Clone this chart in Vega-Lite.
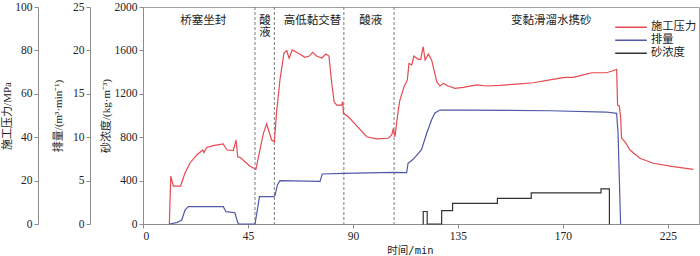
{
  "$schema": "https://vega.github.io/schema/vega-lite/v6.json",
  "width": 556,
  "height": 217,
  "autosize": {"type": "none"},
  "padding": {"left": 143, "top": 7, "right": 1, "bottom": 32},
  "config": {
    "font": "Liberation Serif",
    "view": {"stroke": "#a0a0a0", "strokeWidth": 1},
    "axis": {
      "domainColor": "#8c8c8c",
      "tickColor": "#8c8c8c",
      "labelColor": "#222222",
      "titleColor": "#222222",
      "labelFont": "Liberation Serif",
      "titleFont": "Liberation Serif, Noto Sans CJK SC",
      "labelFontSize": 11.5,
      "titleFontSize": 11,
      "titleFontWeight": "normal",
      "grid": false,
      "tickSize": 4,
      "labelPadding": 2,
      "format": "d"
    }
  },
  "datasets": {
    "pressure": [
      {"t": 11.3, "v": 0}, {"t": 11.9, "v": 22.1}, {"t": 13, "v": 17.5}, {"t": 16.1, "v": 17.5},
      {"t": 18, "v": 23.5}, {"t": 20.1, "v": 28}, {"t": 23, "v": 31.8}, {"t": 25.6, "v": 34.1},
      {"t": 26.1, "v": 32.9}, {"t": 27.3, "v": 35.3}, {"t": 30.1, "v": 36.1}, {"t": 34.4, "v": 36.9},
      {"t": 35.1, "v": 35.6}, {"t": 36.1, "v": 34.1}, {"t": 38.7, "v": 33.8}, {"t": 39.9, "v": 38.7},
      {"t": 40.6, "v": 31}, {"t": 41.6, "v": 30.7}, {"t": 43.7, "v": 28.7}, {"t": 45.9, "v": 26.6},
      {"t": 48.4, "v": 25.2}, {"t": 50.1, "v": 34.1}, {"t": 51.6, "v": 41.8}, {"t": 53, "v": 46.1},
      {"t": 55.1, "v": 38.7}, {"t": 56.3, "v": 37.9}, {"t": 57.3, "v": 52}, {"t": 58.7, "v": 66.4},
      {"t": 60.4, "v": 78.7}, {"t": 61.6, "v": 79.9}, {"t": 62.6, "v": 76.4}, {"t": 64, "v": 80.2},
      {"t": 66.6, "v": 78.7}, {"t": 69.4, "v": 76.8}, {"t": 71.3, "v": 77.4}, {"t": 72.7, "v": 79.1},
      {"t": 74.4, "v": 77.4}, {"t": 76.6, "v": 76.5}, {"t": 78.4, "v": 78.3}, {"t": 79.7, "v": 77.4},
      {"t": 80.9, "v": 64.8}, {"t": 81.9, "v": 56.4}, {"t": 83, "v": 54.8}, {"t": 85.1, "v": 54.8},
      {"t": 85.6, "v": 56.4}, {"t": 85.9, "v": 51}, {"t": 88, "v": 49.4}, {"t": 91.6, "v": 45.2},
      {"t": 95.9, "v": 40.2}, {"t": 100.1, "v": 39.2}, {"t": 105.1, "v": 39.5}, {"t": 106.6, "v": 41},
      {"t": 107.3, "v": 44.1}, {"t": 108, "v": 40.2}, {"t": 109.4, "v": 52.5}, {"t": 110.1, "v": 57.1},
      {"t": 111.9, "v": 63.3}, {"t": 113.3, "v": 66.4}, {"t": 114, "v": 74}, {"t": 115.2, "v": 73.3},
      {"t": 116.1, "v": 77.4}, {"t": 118, "v": 75.9}, {"t": 119, "v": 75.9}, {"t": 120.1, "v": 81.7},
      {"t": 120.9, "v": 75.6}, {"t": 122.3, "v": 78.3}, {"t": 123.7, "v": 75.6}, {"t": 124.7, "v": 71},
      {"t": 125.9, "v": 65.6}, {"t": 127.3, "v": 63.6}, {"t": 128.7, "v": 64.8}, {"t": 130.8, "v": 63.6},
      {"t": 133.7, "v": 62.5}, {"t": 137.3, "v": 63}, {"t": 143, "v": 64.1}, {"t": 147.3, "v": 63.6},
      {"t": 153, "v": 63.9}, {"t": 160.2, "v": 64.5}, {"t": 167.3, "v": 65.1}, {"t": 174.4, "v": 66.4},
      {"t": 180.9, "v": 67.6}, {"t": 184.4, "v": 67.6}, {"t": 188.7, "v": 68.7}, {"t": 192.3, "v": 69.7},
      {"t": 198.6, "v": 69.7}, {"t": 201.4, "v": 70.6}, {"t": 203, "v": 71.3}, {"t": 203.4, "v": 54.8},
      {"t": 204.1, "v": 54.4}, {"t": 204.7, "v": 49.4}, {"t": 205.1, "v": 39.5}, {"t": 206.6, "v": 37.9},
      {"t": 208.7, "v": 34.1}, {"t": 213, "v": 30.3}, {"t": 218.7, "v": 28}, {"t": 227.3, "v": 26.4},
      {"t": 235.9, "v": 25.2}
    ],
    "rate": [
      {"t": 11.3, "v": 0}, {"t": 14.4, "v": 0.15}, {"t": 16.6, "v": 0.46}, {"t": 18, "v": 1.6},
      {"t": 19.4, "v": 2.0}, {"t": 34.4, "v": 2.0}, {"t": 35.6, "v": 1.42}, {"t": 39.4, "v": 1.3},
      {"t": 40.6, "v": 0.15}, {"t": 41.1, "v": 0}, {"t": 48, "v": 0}, {"t": 49, "v": 1.6},
      {"t": 49.9, "v": 3.15}, {"t": 55.9, "v": 3.15}, {"t": 56.6, "v": 3.3}, {"t": 57.6, "v": 4.5},
      {"t": 58.7, "v": 4.99}, {"t": 75.9, "v": 4.9}, {"t": 76.8, "v": 5.76}, {"t": 85.9, "v": 5.84},
      {"t": 107.3, "v": 5.95}, {"t": 113.0, "v": 5.93}, {"t": 113.6, "v": 7.0}, {"t": 115.8, "v": 7.45},
      {"t": 118, "v": 8.14}, {"t": 119.4, "v": 8.6}, {"t": 121.6, "v": 10.45}, {"t": 123.7, "v": 12.0},
      {"t": 125.1, "v": 12.8}, {"t": 127.3, "v": 13.13}, {"t": 138.7, "v": 13.13}, {"t": 174.4, "v": 13.05},
      {"t": 198.6, "v": 12.9}, {"t": 203, "v": 12.75}, {"t": 203.6, "v": 10.45}, {"t": 204.7, "v": 0}
    ],
    "sand": [
      {"t": 119.9, "v": 0}, {"t": 120.1, "v": 115}, {"t": 121.8, "v": 0}, {"t": 128.0, "v": 123},
      {"t": 132.7, "v": 191}, {"t": 151.9, "v": 237}, {"t": 166.4, "v": 287}, {"t": 196.3, "v": 323},
      {"t": 199.9, "v": 0}, {"t": 200, "v": 0}
    ],
    "dividers": [{"t": 48.0}, {"t": 56.3}, {"t": 86.1}, {"t": 107.6}],
    "phases": [
      {"t": 25.8, "label": "桥塞坐封"},
      {"t": 52.3, "label": "酸\n液"},
      {"t": 72.6, "label": "高低黏交替"},
      {"t": 97.6, "label": "酸液"},
      {"t": 175.0, "label": "变黏滑溜水携砂"}
    ]
  },
  "layer": [
    {
      "data": {"name": "dividers"},
      "mark": {"type": "rule", "strokeDash": [3, 2], "color": "#7a7a7a", "strokeWidth": 1},
      "encoding": {
        "x": {
          "field": "t", "type": "quantitative",
          "scale": {"domain": [0, 238.3], "nice": false, "zero": false},
          "axis": {
            "orient": "bottom",
            "values": [0, 45, 90, 135, 180, 225],
            "labelExpr": "datum.value == 180 ? '170' : datum.label",
            "title": "时间/min",
            "titleFont": "DejaVu Sans Mono, Noto Sans CJK SC",
            "titleFontSize": 10.5,
            "titleX": 267,
            "titlePadding": 4
          }
        }
      }
    },
    {
      "data": {"name": "pressure"},
      "mark": {"type": "line", "strokeWidth": 1.2},
      "encoding": {
        "x": {"field": "t", "type": "quantitative", "scale": {"domain": [0, 238.3], "nice": false, "zero": false}},
        "y": {
          "field": "v", "type": "quantitative",
          "scale": {"domain": [0, 100], "nice": false},
          "axis": {"orient": "left", "offset": 105, "values": [0, 20, 40, 60, 80, 100], "title": "施工压力/MPa", "titlePadding": 2}
        },
        "color": {
          "datum": "施工压力",
          "scale": {"domain": ["施工压力", "排量", "砂浓度"], "range": ["#e64a52", "#5058a8", "#333333"]},
          "legend": {
            "orient": "none", "legendX": 471, "legendY": 14, "title": null,
            "symbolType": "stroke", "symbolSize": 1000, "symbolStrokeWidth": 1.5,
            "clipHeight": 12.5, "rowPadding": 0, "padding": 0,
            "labelFont": "Noto Sans CJK SC", "labelFontSize": 11.3, "labelColor": "#222222", "labelOffset": 3
          }
        }
      }
    },
    {
      "data": {"name": "rate"},
      "mark": {"type": "line", "strokeWidth": 1.2},
      "encoding": {
        "x": {"field": "t", "type": "quantitative", "scale": {"domain": [0, 238.3], "nice": false, "zero": false}},
        "y": {
          "field": "v", "type": "quantitative",
          "scale": {"domain": [0, 25], "nice": false},
          "axis": {"orient": "left", "offset": 53, "values": [0, 5, 10, 15, 20, 25], "title": "排量/(m³·min⁻¹)", "titlePadding": 9}
        },
        "color": {"datum": "排量"}
      }
    },
    {
      "data": {"name": "sand"},
      "mark": {"type": "line", "strokeWidth": 1.2, "interpolate": "step-after"},
      "encoding": {
        "x": {"field": "t", "type": "quantitative", "scale": {"domain": [0, 238.3], "nice": false, "zero": false}},
        "y": {
          "field": "v", "type": "quantitative",
          "scale": {"domain": [0, 2000], "nice": false},
          "axis": {"orient": "left", "offset": 0, "values": [0, 400, 800, 1200, 1600, 2000], "title": "砂浓度/(kg·m⁻³)", "titlePadding": 3}
        },
        "color": {"datum": "砂浓度"}
      }
    },
    {
      "data": {"name": "phases"},
      "mark": {"type": "text", "baseline": "top", "align": "center", "fontSize": 11.5, "lineBreak": "\n", "lineHeight": 12.7, "color": "#222222", "font": "Noto Sans CJK SC"},
      "encoding": {
        "x": {"field": "t", "type": "quantitative", "scale": {"domain": [0, 238.3], "nice": false, "zero": false}},
        "y": {"datum": 1930, "type": "quantitative", "scale": {"domain": [0, 2000], "nice": false}, "axis": null},
        "text": {"field": "label"}
      }
    }
  ],
  "resolve": {"scale": {"y": "independent"}, "axis": {"y": "independent"}}
}
